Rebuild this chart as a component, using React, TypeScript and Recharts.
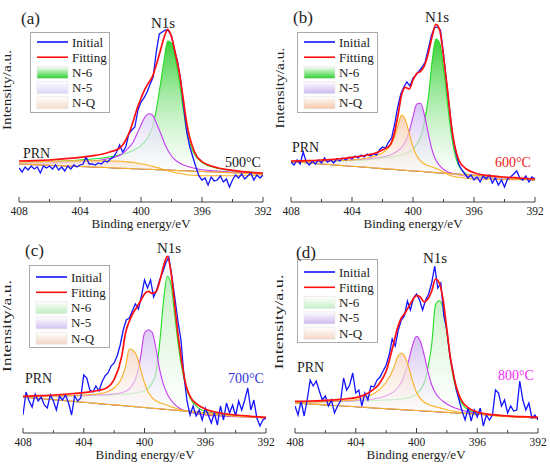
import { ComposedChart, Line, Area, XAxis, YAxis, Legend } from "recharts";

const SERIF = '"Liberation Serif", "Times New Roman", serif';

// binding energies (eV) of the fitted curves and of the measured scan
const FIT_E = [408, 407, 406, 405, 404, 403, 402.5, 402, 401.5, 401.25, 401, 400.75, 400.5, 400.25, 400, 399.75, 399.5, 399.25, 399, 398.75, 398.5, 398.25, 398, 397.75, 397.5, 397.25, 397, 396.5, 396, 395, 394, 393, 392];
const INIT_E = [
  408, 407.8, 407.6, 407.4, 407.2, 407, 406.8, 406.6, 406.4, 406.2,
  406, 405.8, 405.6, 405.4, 405.2, 405, 404.8, 404.6, 404.4, 404.2,
  404, 403.8, 403.6, 403.4, 403.2, 403, 402.8, 402.6, 402.4, 402.2,
  402, 401.8, 401.6, 401.4, 401.2, 401, 400.8, 400.6, 400.4, 400.2,
  400, 399.8, 399.6, 399.4, 399.2, 399, 398.8, 398.6, 398.4, 398.2,
  398, 397.8, 397.6, 397.4, 397.2, 397, 396.8, 396.6, 396.4, 396.2,
  396, 395.8, 395.6, 395.4, 395.2, 395, 394.8, 394.6, 394.4, 394.2,
  394, 393.8, 393.6, 393.4, 393.2, 393, 392.8, 392.6, 392.4, 392.2,
  392,
];
const TICKS = [408, 406, 404, 402, 400, 398, 396, 394, 392];

// (a) 500°C
const A_INITIAL = [
  34, 30, 35, 32, 36, 33, 35, 29, 36, 34,
  36, 33, 37, 32, 35, 31, 36, 33, 37, 35,
  37, 38, 45, 38, 38, 37, 39, 38, 41, 40,
  43, 45, 50, 57, 50, 55, 68, 72, 75, 92,
  100, 104, 110, 118, 125, 150, 168, 170, 172, 171,
  166, 152, 140, 122, 95, 70, 55, 45, 35, 26,
  22, 24, 17, 25, 21, 22, 26, 20, 23, 15,
  22, 27, 24, 28, 23, 26, 29, 22, 27, 24,
  27,
];
const A_FITTING = [41.0, 41.3, 42.0, 43.3, 44.7, 46.7, 48.0, 50.3, 53.0, 56.0, 62.0, 70.3, 81.3, 93.7, 103.7, 112.7, 119.3, 125.3, 137.0, 150.3, 163.7, 172.7, 165.3, 148.7, 130.3, 105.3, 78.7, 50.3, 40.3, 34.3, 31.7, 30.0, 28.7];
const A_N6 = [39.3, 39.7, 40.3, 41.0, 42.0, 43.3, 44.0, 45.3, 46.7, 47.7, 48.7, 50.0, 51.7, 53.7, 56.3, 60.3, 66.0, 75.3, 92.0, 115.3, 140.3, 161.0, 158.7, 143.7, 122.0, 95.3, 70.3, 48.0, 39.7, 33.7, 31.3, 30.0, 28.7];
const A_N5 = [38.3, 38.7, 39.0, 39.7, 40.3, 41.3, 42.3, 43.7, 46.0, 48.0, 51.3, 55.3, 60.3, 68.7, 77.0, 84.7, 88.3, 87.0, 79.3, 70.3, 60.3, 52.0, 46.0, 42.0, 39.3, 37.3, 36.0, 33.7, 32.3, 31.0, 30.0, 29.0, 28.0];
const A_NQ = [40.0, 40.3, 40.7, 41.0, 41.3, 41.3, 41.3, 41.0, 41.0, 40.7, 40.3, 40.0, 39.7, 39.0, 38.3, 37.7, 36.7, 35.7, 34.7, 33.7, 32.3, 31.3, 30.3, 29.3, 28.7, 28.0, 27.3, 26.7, 26.3, 26.3, 26.3, 26.7, 27.0];
const A_BASE = [38.0, 37.4, 36.8, 36.1, 35.5, 34.9, 34.6, 34.3, 33.9, 33.8, 33.6, 33.5, 33.3, 33.2, 33.0, 32.8, 32.7, 32.5, 32.4, 32.2, 32.1, 31.9, 31.8, 31.6, 31.4, 31.3, 31.1, 30.8, 30.5, 29.9, 29.3, 28.6, 28.0];

// (b) 600°C
const B_INITIAL = [
  40, 37, 42, 38, 50, 40, 37, 41, 38, 42,
  39, 44, 40, 42, 39, 43, 41, 44, 42, 45,
  43, 46, 44, 47, 45, 48, 46, 48, 47, 52,
  55, 54, 60, 64, 78, 95, 108, 115, 120, 116,
  124, 127, 131, 135, 140, 153, 166, 174, 175, 172,
  148, 120, 92, 66, 50, 38, 32, 28, 24, 27,
  22, 25, 20, 26, 23, 27, 19, 24, 17, 22,
  15, 23, 25, 28, 31, 24, 22, 26, 20, 25,
  23,
];
const B_FITTING = [41.0, 41.3, 42.0, 43.0, 44.7, 47.0, 48.7, 52.0, 57.0, 67.0, 85.3, 107.0, 114.7, 113.0, 122.0, 128.7, 130.7, 136.3, 148.7, 165.3, 177.7, 172.0, 145.3, 113.7, 78.7, 55.3, 42.0, 33.0, 29.3, 26.3, 25.0, 24.0, 23.0];
const B_N6 = [40.0, 40.3, 40.7, 41.0, 41.3, 42.3, 43.0, 44.0, 45.0, 45.7, 46.3, 47.3, 48.7, 50.3, 53.0, 58.0, 65.3, 80.3, 103.7, 140.3, 163.0, 158.7, 133.7, 100.3, 68.7, 48.0, 36.3, 28.0, 25.3, 24.0, 23.3, 23.0, 22.3];
const B_N5 = [40.0, 40.3, 40.7, 41.3, 42.0, 43.0, 44.0, 45.0, 47.0, 48.7, 51.3, 54.7, 60.3, 70.3, 85.3, 98.0, 98.7, 87.0, 68.7, 52.0, 42.0, 36.3, 32.7, 30.3, 29.0, 28.0, 27.0, 25.7, 24.7, 23.7, 23.0, 22.7, 22.3];
const B_NQ = [40.0, 40.3, 40.7, 41.3, 42.0, 44.0, 46.0, 49.3, 56.3, 63.7, 75.3, 87.0, 82.0, 68.7, 55.3, 46.0, 41.0, 38.0, 36.3, 35.0, 33.7, 32.0, 30.0, 28.0, 26.3, 25.3, 24.7, 23.7, 23.0, 22.7, 22.3, 22.3, 22.3];
const B_BASE = [40.3, 39.2, 38.0, 36.9, 35.7, 34.6, 34.0, 33.4, 32.9, 32.6, 32.3, 32.0, 31.7, 31.4, 31.1, 30.9, 30.6, 30.3, 30.0, 29.7, 29.4, 29.1, 28.9, 28.6, 28.3, 28.0, 27.7, 27.1, 26.6, 25.4, 24.3, 23.1, 22.0];

// (c) 700°C
const C_INITIAL = [
  18, 41, 32, 26, 39, 32, 36, 28, 25, 38,
  32, 23, 37, 33, 38, 30, 18, 37, 32, 35,
  58, 55, 43, 41, 47, 42, 51, 57, 60, 67,
  70, 77, 88, 103, 113, 115, 122, 129, 124, 137,
  153, 145, 153, 136, 143, 153, 161, 170, 176, 157,
  135, 112, 93, 57, 32, 18, 27, 17, 23, 13,
  25, 18, 10, 20, 8, 27, 13, 30, 20, 28,
  17, 32, 23, 33, 45, 23, 33, 15, 7, 13,
  15,
];
const C_FITTING = [36.7, 37.3, 38.0, 39.0, 40.3, 42.7, 45.0, 53.3, 76.7, 100.0, 111.7, 120.0, 126.0, 132.3, 139.0, 141.7, 139.7, 141.0, 151.7, 166.7, 176.7, 160.0, 126.7, 93.3, 66.7, 46.7, 36.7, 28.3, 24.0, 20.0, 18.0, 16.7, 15.7];
const C_N6 = [36.0, 36.3, 36.7, 37.0, 37.3, 37.7, 38.0, 38.3, 38.7, 39.0, 39.3, 39.7, 40.3, 41.0, 42.3, 45.0, 50.0, 60.0, 90.0, 131.7, 156.7, 148.3, 116.7, 85.0, 61.7, 45.0, 35.0, 25.7, 21.7, 18.7, 17.3, 16.3, 15.3];
const C_N5 = [36.0, 36.3, 36.7, 37.0, 37.3, 38.0, 38.3, 39.0, 40.3, 41.7, 44.0, 49.3, 58.3, 76.7, 100.0, 103.3, 100.7, 85.0, 63.3, 48.3, 39.0, 32.7, 28.3, 25.3, 23.3, 21.7, 20.7, 19.0, 18.0, 17.0, 16.3, 16.0, 15.3];
const C_NQ = [36.3, 36.7, 37.0, 37.3, 38.0, 39.3, 41.0, 45.0, 55.0, 66.7, 84.0, 82.7, 76.7, 63.3, 50.0, 40.7, 35.3, 32.3, 30.3, 29.0, 27.7, 26.3, 25.0, 23.7, 22.7, 21.7, 21.0, 19.7, 19.0, 17.7, 16.7, 16.0, 15.0];
const C_BASE = [36.0, 34.7, 33.4, 32.1, 30.8, 29.4, 28.8, 28.1, 27.5, 27.2, 26.8, 26.5, 26.2, 25.8, 25.5, 25.2, 24.8, 24.5, 24.2, 23.9, 23.5, 23.2, 22.9, 22.6, 22.2, 21.9, 21.6, 20.9, 20.3, 18.9, 17.6, 16.3, 15.0];

// (d) 800°C
const D_INITIAL = [
  27, 18, 32, 17, 33, 53, 47, 52, 42, 33,
  37, 27, 33, 20, 27, 32, 55, 43, 48, 60,
  40, 43, 27, 40, 33, 47, 46, 53, 56, 62,
  68, 78, 94, 87, 103, 113, 117, 132, 123, 135,
  139, 133, 123, 133, 139, 150, 167, 145, 150, 117,
  103, 77, 62, 45, 33, 22, 13, 25, 12, 23,
  16, 25, 7, 18, 13, 18, 43, 40, 27, 33,
  20, 27, 22, 23, 52, 33, 23, 30, 15, 18,
  13,
];
const D_FITTING = [31.7, 32.0, 32.7, 33.7, 35.3, 41.7, 48.3, 61.7, 90.0, 105.0, 115.0, 120.0, 126.7, 133.3, 137.3, 136.0, 131.0, 134.0, 141.7, 154.0, 150.0, 133.3, 103.3, 73.3, 53.3, 40.0, 31.7, 24.3, 21.0, 18.3, 17.0, 16.3, 15.7];
const D_N6 = [30.7, 31.0, 31.3, 31.7, 32.0, 32.3, 32.7, 33.0, 33.3, 33.7, 34.0, 34.7, 35.3, 36.7, 39.0, 43.3, 50.0, 65.0, 88.3, 128.3, 132.3, 125.0, 100.0, 71.7, 50.0, 36.7, 29.0, 22.3, 19.7, 17.7, 16.7, 16.0, 15.3];
const D_N5 = [30.7, 31.0, 31.3, 31.7, 32.3, 33.7, 35.0, 37.3, 41.3, 45.0, 50.7, 60.0, 73.3, 88.3, 96.7, 91.7, 78.3, 61.7, 48.3, 40.0, 35.0, 31.7, 29.0, 27.0, 25.3, 24.0, 22.7, 20.7, 19.3, 17.7, 16.7, 16.0, 15.3];
const D_NQ = [30.7, 31.0, 31.3, 32.0, 33.3, 38.0, 42.7, 50.7, 65.0, 76.0, 79.7, 76.0, 65.0, 51.7, 40.7, 34.3, 30.7, 28.7, 27.3, 26.3, 25.3, 24.3, 23.3, 22.3, 21.7, 21.0, 20.3, 19.3, 18.7, 17.3, 16.3, 15.7, 15.0];
const D_BASE = [30.0, 29.1, 28.1, 27.2, 26.3, 25.3, 24.8, 24.4, 23.9, 23.7, 23.4, 23.2, 23.0, 22.7, 22.5, 22.3, 22.0, 21.8, 21.6, 21.3, 21.1, 20.9, 20.6, 20.4, 20.2, 19.9, 19.7, 19.2, 18.8, 17.8, 16.9, 15.9, 15.0];

const LEGEND_NAMES = ["Initial", "Fitting", "N-6", "N-5", "N-Q"];

const BLUE = "#1414ff";
const RED = "#ff1010";
const GREEN = "#22dd22";
const PURPLE = "#c23cf0";
const ORANGE = "#f8b024";

interface Note {
  text: string;
  x: number;
  y: number;
  size: number;
  color?: string;
}

interface PanelSpec {
  id: string;
  left: number;
  top: number;
  margin: { top: number; right: number; bottom: number; left: number };
  axisH: number;
  yMax: number;
  initial: number[];
  fit: number[];
  n6: number[];
  n5: number[];
  nq: number[];
  base: number[];
  fill6: string;
  fill5: string;
  fillQ: string;
  legend: { x: number; y: number; w: number; row0: number; gap: number };
  notes: Note[];
  yLabel: { x: number; y: number; len: number };
  xTitle: { x: number; y: number };
}

const PANELS: PanelSpec[] = [
  {
    id: "a", left: 0, top: 0,
    margin: { top: 1, right: 12, bottom: 0, left: 19 }, axisH: 31, yMax: 201,
    initial: A_INITIAL, fit: A_FITTING, n6: A_N6, n5: A_N5, nq: A_NQ, base: A_BASE,
    fill6: "#2fcf2f", fill5: "#dcd4f6", fillQ: "#f6dcc8",
    legend: { x: 30, y: 32, w: 80, row0: 10, gap: 15.2 },
    notes: [
      { text: "(a)", x: 21, y: 24, size: 17 },
      { text: "N1s", x: 151, y: 28, size: 15 },
      { text: "PRN", x: 23, y: 158, size: 14 },
      { text: "500°C", x: 225, y: 167, size: 14, color: "#111" },
    ],
    yLabel: { x: 11, y: 90, len: 80 },
    xTitle: { x: 141, y: 228 },
  },
  {
    id: "b", left: 275, top: 0,
    margin: { top: 1, right: 15, bottom: 0, left: 16 }, axisH: 31, yMax: 201,
    initial: B_INITIAL, fit: B_FITTING, n6: B_N6, n5: B_N5, nq: B_NQ, base: B_BASE,
    fill6: "#2fcf2f", fill5: "#cdb9f1", fillQ: "#f5c7a6",
    legend: { x: 22, y: 32, w: 81, row0: 10, gap: 15.2 },
    notes: [
      { text: "(b)", x: 293, y: 23, size: 17 },
      { text: "N1s", x: 425, y: 22, size: 15 },
      { text: "PRN", x: 292, y: 152, size: 14 },
      { text: "600°C", x: 495, y: 167, size: 14, color: "#f01818" },
    ],
    yLabel: { x: 284, y: 88, len: 81 },
    xTitle: { x: 413, y: 228 },
  },
  {
    id: "c", left: 0, top: 233,
    margin: { top: 6, right: 9, bottom: 0, left: 23 }, axisH: 33, yMax: 194,
    initial: C_INITIAL, fit: C_FITTING, n6: C_N6, n5: C_N5, nq: C_NQ, base: C_BASE,
    fill6: "#bdeebd", fill5: "#d3c2f1", fillQ: "#f3d6c8",
    legend: { x: 29, y: 32, w: 81, row0: 12, gap: 15.3 },
    notes: [
      { text: "(c)", x: 25, y: 256, size: 17 },
      { text: "N1s", x: 157, y: 253, size: 15 },
      { text: "PRN", x: 25, y: 383, size: 14 },
      { text: "700°C", x: 228, y: 383, size: 14, color: "#3434d6" },
    ],
    yLabel: { x: 11, y: 326, len: 92 },
    xTitle: { x: 145, y: 459 },
  },
  {
    id: "d", left: 275, top: 233,
    margin: { top: 6, right: 12, bottom: 0, left: 20 }, axisH: 33, yMax: 194,
    initial: D_INITIAL, fit: D_FITTING, n6: D_N6, n5: D_N5, nq: D_NQ, base: D_BASE,
    fill6: "#c6f0c6", fill5: "#cdb8ee", fillQ: "#f5d6c6",
    legend: { x: 22, y: 26, w: 81, row0: 13, gap: 15.3 },
    notes: [
      { text: "(d)", x: 296, y: 258, size: 17 },
      { text: "N1s", x: 423, y: 263, size: 15 },
      { text: "PRN", x: 297, y: 372, size: 14 },
      { text: "800°C", x: 498, y: 380, size: 14, color: "#f22cf2" },
    ],
    yLabel: { x: 283, y: 322, len: 95 },
    xTitle: { x: 416, y: 459 },
  },
];

function EnergyTick(props: any) {
  const { x, y, payload } = props;
  const major = payload.value % 4 === 0;
  return (
    <g>
      <line x1={x} x2={x} y1={y} y2={y - (major ? 5 : 3)} stroke="#444" />
      {major && (
        <text x={x} y={y + 12.5} textAnchor="middle" fontSize={11.5} fontFamily={SERIF} fill="#222">
          {payload.value}
        </text>
      )}
    </g>
  );
}

function PanelLegend({ p }: { p: PanelSpec }) {
  const { w, row0, gap } = p.legend;
  const h = Math.round(row0 + 4 * gap + 10);
  const swatches = [null, null, `s6${p.id}`, `s5${p.id}`, `sq${p.id}`];
  return (
    <svg width={w} height={h} style={{ display: "block" }}>
      <rect x={0.5} y={0.5} width={w - 1} height={h - 1} fill="#fff" stroke="#aaa" />
      {LEGEND_NAMES.map((name, i) => {
        const cy = row0 + i * gap;
        return (
          <g key={name}>
            {i === 0 && <line x1={7} x2={38} y1={cy} y2={cy} stroke={BLUE} strokeWidth={1.6} />}
            {i === 1 && <line x1={7} x2={38} y1={cy} y2={cy} stroke={RED} strokeWidth={1.6} />}
            {i > 1 && (
              <rect x={7} y={cy - 6} width={31} height={12} fill={`url(#${swatches[i]})`} stroke="#e4e4e4" strokeWidth={0.6} />
            )}
            <text x={42} y={cy + 4.5} fontSize={13} fontFamily={SERIF} fill="#222">
              {name}
            </text>
          </g>
        );
      })}
    </svg>
  );
}

function Panel({ p }: { p: PanelSpec }) {
  const rows = FIT_E.map((e, i) => ({
    e,
    fit: p.fit[i],
    n6: [p.base[i], p.n6[i]],
    n5: [p.base[i], p.n5[i]],
    nq: [p.base[i], p.nq[i]],
  }));
  const raw = INIT_E.map((e, i) => ({ e, v: p.initial[i] }));
  const legendH = Math.round(p.legend.row0 + 4 * p.legend.gap + 10);

  return (
    <div style={{ position: "absolute", left: p.left, top: p.top }}>
      <ComposedChart width={275} height={233} data={rows} margin={p.margin}>
        <XAxis
          dataKey="e"
          type="number"
          domain={[392, 408]}
          reversed
          ticks={TICKS}
          interval={0}
          tickLine={false}
          tickSize={0}
          tickMargin={0}
          tick={<EnergyTick />}
          height={p.axisH}
          axisLine={{ stroke: "#444" }}
          allowDataOverflow
        />
        <XAxis
          xAxisId="top"
          orientation="top"
          type="number"
          domain={[392, 408]}
          reversed
          height={0}
          tick={false}
          tickLine={false}
          axisLine={{ stroke: "#999" }}
        />
        <YAxis
          type="number"
          domain={[0, p.yMax]}
          width={0}
          tick={false}
          tickLine={false}
          axisLine={{ stroke: "#444" }}
          allowDataOverflow
        />
        <YAxis
          yAxisId="right"
          orientation="right"
          type="number"
          domain={[0, p.yMax]}
          width={0}
          tick={false}
          tickLine={false}
          axisLine={{ stroke: "#999" }}
        />
        <Line data={raw} dataKey="v" type="linear" stroke={BLUE} strokeWidth={1.3} dot={false} activeDot={false} isAnimationActive={false} />
        <Area dataKey="n6" type="monotone" stroke={GREEN} strokeWidth={1.1} fill={`url(#g6${p.id})`} fillOpacity={1} dot={false} activeDot={false} isAnimationActive={false} />
        <Area dataKey="n5" type="monotone" stroke={PURPLE} strokeWidth={1.1} fill={`url(#g5${p.id})`} fillOpacity={1} dot={false} activeDot={false} isAnimationActive={false} />
        <Area dataKey="nq" type="monotone" stroke={ORANGE} strokeWidth={1.1} fill={`url(#gq${p.id})`} fillOpacity={1} dot={false} activeDot={false} isAnimationActive={false} />
        <Line dataKey="fit" type="monotone" stroke={RED} strokeWidth={1.7} dot={false} activeDot={false} isAnimationActive={false} />
        <Legend
          layout="horizontal"
          verticalAlign="middle"
          align="center"
          content={() => <PanelLegend p={p} />}
          wrapperStyle={{ left: p.legend.x, top: p.legend.y, width: p.legend.w, height: legendH }}
        />
      </ComposedChart>
    </div>
  );
}

function Gradients() {
  return (
    <svg width={0} height={0} style={{ position: "absolute" }}>
      <defs>
        {PANELS.map((p) => (
          <g key={p.id}>
            <linearGradient id={`g6${p.id}`} x1="0" y1="0" x2="0" y2="1">
              <stop offset="0%" stopColor={p.fill6} stopOpacity={0.95} />
              <stop offset="100%" stopColor="#ffffff" stopOpacity={0.4} />
            </linearGradient>
            <linearGradient id={`g5${p.id}`} x1="0" y1="0" x2="0" y2="1">
              <stop offset="0%" stopColor={p.fill5} stopOpacity={0.85} />
              <stop offset="100%" stopColor="#ffffff" stopOpacity={0.4} />
            </linearGradient>
            <linearGradient id={`gq${p.id}`} x1="0" y1="0" x2="0" y2="1">
              <stop offset="0%" stopColor={p.fillQ} stopOpacity={0.85} />
              <stop offset="100%" stopColor="#ffffff" stopOpacity={0.4} />
            </linearGradient>
            <linearGradient id={`s6${p.id}`} x1="0" y1="0" x2="0" y2="1">
              <stop offset="0%" stopColor="#ffffff" />
              <stop offset="100%" stopColor={p.fill6} />
            </linearGradient>
            <linearGradient id={`s5${p.id}`} x1="0" y1="0" x2="0" y2="1">
              <stop offset="0%" stopColor="#ffffff" />
              <stop offset="100%" stopColor={p.fill5} />
            </linearGradient>
            <linearGradient id={`sq${p.id}`} x1="0" y1="0" x2="0" y2="1">
              <stop offset="0%" stopColor="#ffffff" />
              <stop offset="100%" stopColor={p.fillQ} />
            </linearGradient>
          </g>
        ))}
      </defs>
    </svg>
  );
}

function Notes() {
  return (
    <svg width={550} height={466} style={{ position: "absolute", left: 0, top: 0, pointerEvents: "none" }}>
      {PANELS.map((p) => (
        <g key={p.id} fontFamily={SERIF} fill="#222">
          {p.notes.map((n) => (
            <text key={n.text} x={n.x} y={n.y} fontSize={n.size} fill={n.color ?? "#222"}>
              {n.text}
            </text>
          ))}
          <text
            x={p.yLabel.x}
            y={p.yLabel.y}
            fontSize={12.5}
            textAnchor="middle"
            textLength={p.yLabel.len}
            lengthAdjust="spacingAndGlyphs"
            transform={`rotate(-90 ${p.yLabel.x} ${p.yLabel.y})`}
          >
            Intensity/a.u.
          </text>
          <text x={p.xTitle.x} y={p.xTitle.y} fontSize={13} textAnchor="middle">
            Binding energy/eV
          </text>
        </g>
      ))}
    </svg>
  );
}

export default function App() {
  return (
    <div style={{ position: "absolute", left: 0, top: 0, width: 550, height: 466, background: "#fff", overflow: "hidden" }}>
      <Gradients />
      {PANELS.map((p) => (
        <Panel key={p.id} p={p} />
      ))}
      <Notes />
    </div>
  );
}
